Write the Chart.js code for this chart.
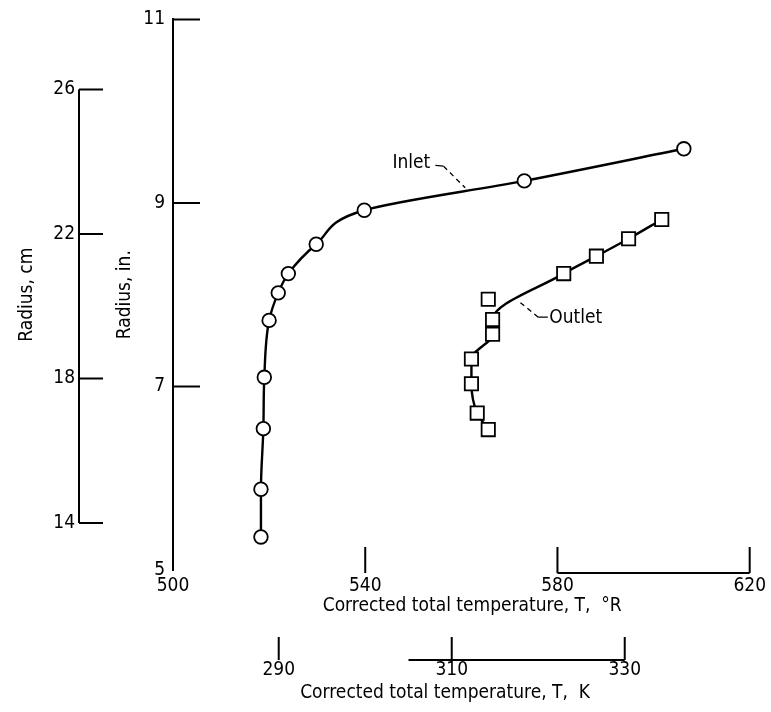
<!DOCTYPE html>
<html>
<head>
<meta charset="utf-8">
<script src="https://cdn.jsdelivr.net/npm/chart.js@4"></script>
<style>
  html, body { margin: 0; padding: 0; background: #fff; }
</style>
</head>
<body>
<canvas id="myChart" width="771" height="712"></canvas>
<script>
// Radial profiles of corrected total temperature
var inletTemp = [518.3, 518.3, 518.8, 519.0, 520.0, 521.9, 524.0, 529.8, 539.8, 573.1, 606.3];
var inletRadius = [5.36, 5.88, 6.54, 7.10, 7.72, 8.02, 8.23, 8.55, 8.92, 9.24, 9.59];
var outletTemp = [565.6, 563.3, 562.1, 562.1, 566.5, 566.5, 565.6, 581.3, 588.1, 594.8, 601.7];
var outletRadius = [6.53, 6.71, 7.03, 7.30, 7.57, 7.73, 7.95, 8.23, 8.42, 8.61, 8.82];
var outletOffCurve = 6; // this point is left off the faired curve

var tempTicksR = [500, 540, 580, 620];
var tempTicksK = [290, 310, 330];
var radiusTicksIn = [5, 7, 9, 11];
var radiusTicksCm = [14, 18, 22, 26];

var FONT = '"Liberation Sans Narrow", "DejaVu Sans Condensed", "Arial Narrow", sans-serif';

function pts(xs, ys) {
  return xs.map(function (x, i) { return { x: x, y: ys[i] }; });
}
function fixedTicks(list) {
  return function (scale) {
    scale.ticks = list.map(function (v) { return { value: v }; });
  };
}

var inletPts = pts(inletTemp, inletRadius);
var outletPts = pts(outletTemp, outletRadius);
var outletCurve = outletPts.filter(function (p, i) { return i !== outletOffCurve; });

// tick marks, partial axis lines and the curve labels
var axisMarks = {
  id: "axisMarks",
  afterDraw: function (chart) {
    var ctx = chart.ctx, s = chart.scales;
    ctx.save();
    ctx.strokeStyle = "#000";
    ctx.lineWidth = 2;
    ctx.beginPath();

    // inch ticks point into the plot
    radiusTicksIn.slice(1).forEach(function (v) {
      var yy = s.y.getPixelForValue(v);
      ctx.moveTo(s.y.right, yy);
      ctx.lineTo(s.y.right + 27, yy);
    });

    // cm axis only spans its labelled range
    var cx = s.ycm.right - 1;
    ctx.moveTo(cx, s.ycm.getPixelForValue(radiusTicksCm[0]));
    ctx.lineTo(cx, s.ycm.getPixelForValue(radiusTicksCm[radiusTicksCm.length - 1]));
    radiusTicksCm.forEach(function (v) {
      var yy = s.ycm.getPixelForValue(v);
      ctx.moveTo(cx, yy);
      ctx.lineTo(cx + 24, yy);
    });

    // degrees Rankine ticks stand up from the label row
    var baseR = s.x.top + 3;
    tempTicksR.slice(1).forEach(function (v) {
      var xx = s.x.getPixelForValue(v);
      ctx.moveTo(xx, baseR);
      ctx.lineTo(xx, baseR - 26);
    });
    ctx.moveTo(s.x.getPixelForValue(580), baseR);
    ctx.lineTo(s.x.getPixelForValue(620), baseR);

    // kelvin ticks
    var baseK = s.xk.top + 40;
    tempTicksK.forEach(function (v) {
      var xx = s.xk.getPixelForValue(v);
      ctx.moveTo(xx, baseK);
      ctx.lineTo(xx, baseK - 23);
    });
    ctx.moveTo(s.xk.getPixelForValue(305), baseK);
    ctx.lineTo(s.xk.getPixelForValue(330), baseK);
    ctx.stroke();

    // curve labels with leaders
    function px(t) { return s.x.getPixelForValue(t); }
    function py(r) { return s.y.getPixelForValue(r); }
    ctx.fillStyle = "#000";
    ctx.font = "19px " + FONT;
    ctx.textBaseline = "middle";
    ctx.textAlign = "center";
    ctx.fillText("Inlet", px(549.6), py(9.43));
    ctx.fillText("Outlet", px(583.8), py(7.74));

    ctx.lineWidth = 1.3;
    ctx.beginPath();
    ctx.moveTo(px(554.6), py(9.41));
    ctx.lineTo(px(556.3), py(9.40));
    ctx.moveTo(px(578.0), py(7.755));
    ctx.lineTo(px(576.0), py(7.755));
    ctx.stroke();
    ctx.setLineDash([5, 4]);
    ctx.beginPath();
    ctx.moveTo(px(556.3), py(9.40));
    ctx.lineTo(px(560.8), py(9.165));
    ctx.moveTo(px(576.0), py(7.755));
    ctx.lineTo(px(571.9), py(7.93));
    ctx.stroke();
    ctx.restore();
  }
};

var textFont = { family: FONT, size: 19 };

var ctx = document.getElementById("myChart").getContext("2d");
var chart = new Chart(ctx, {
  type: "scatter",
  data: {
    datasets: [
      {
        label: "Inlet",
        data: inletPts,
        pointStyle: "circle",
        pointRadius: 6.8,
        pointBackgroundColor: "#fff",
        pointBorderColor: "#000",
        pointBorderWidth: 1.8
      },
      {
        label: "Outlet",
        data: outletPts,
        pointStyle: "rect",
        pointRadius: 9.4,
        pointBackgroundColor: "#fff",
        pointBorderColor: "#000",
        pointBorderWidth: 1.8
      },
      // faired curves, smoothed along the radius
      {
        data: inletPts,
        indexAxis: "y",
        showLine: true,
        pointRadius: 0,
        borderColor: "#000",
        borderWidth: 2.4,
        cubicInterpolationMode: "monotone"
      },
      {
        data: outletCurve,
        indexAxis: "y",
        showLine: true,
        pointRadius: 0,
        borderColor: "#000",
        borderWidth: 2.4,
        cubicInterpolationMode: "monotone"
      }
    ]
  },
  options: {
    responsive: false,
    animation: false,
    layout: { padding: { left: 0, right: 21, top: 17, bottom: 6 } },
    plugins: { legend: { display: false }, tooltip: { enabled: false } },
    scales: {
      x: {
        type: "linear",
        position: "bottom",
        min: 500,
        max: 620,
        afterBuildTicks: fixedTicks(tempTicksR),
        afterFit: function (s) { s.height = 50; },
        grid: { display: false, drawTicks: false },
        border: { display: false },
        ticks: { color: "#000", font: textFont, padding: 5, maxRotation: 0, autoSkip: false },
        title: {
          display: true,
          text: "    Corrected total temperature, T,  \u00B0R",
          color: "#000",
          font: textFont,
          padding: { top: 0, bottom: 3 }
        }
      },
      xk: {
        type: "linear",
        position: "bottom",
        min: 500 / 1.8,
        max: 620 / 1.8,
        afterBuildTicks: fixedTicks(tempTicksK),
        afterFit: function (s) { s.height = 86; },
        grid: { display: false, drawTicks: false },
        border: { display: false },
        ticks: { color: "#000", font: textFont, padding: 39, maxRotation: 0, autoSkip: false },
        title: {
          display: true,
          text: "Corrected total temperature, T,  K      ",
          color: "#000",
          font: textFont,
          padding: { top: 0, bottom: 2 }
        }
      },
      y: {
        type: "linear",
        position: "left",
        min: 5,
        max: 11,
        afterBuildTicks: fixedTicks(radiusTicksIn),
        afterFit: function (s) { s.width = 93; },
        grid: { display: false, drawTicks: false },
        border: { display: true, color: "#000", width: 2 },
        ticks: { color: "#000", font: textFont, padding: 8 },
        title: {
          display: true,
          text: "Radius, in.",
          color: "#000",
          font: textFont,
          padding: { top: 34, bottom: 0 }
        }
      },
      ycm: {
        type: "linear",
        position: "left",
        min: 5 * 2.54,
        max: 11 * 2.54,
        afterBuildTicks: fixedTicks(radiusTicksCm),
        afterFit: function (s) { s.width = 80; },
        grid: { display: false, drawTicks: false },
        border: { display: false },
        ticks: { color: "#000", font: textFont, padding: 5 },
        title: {
          display: true,
          text: "Radius, cm",
          color: "#000",
          font: textFont,
          padding: { top: 16, bottom: 0 }
        }
      }
    }
  },
  plugins: [axisMarks]
});
</script>
</body>
</html>
